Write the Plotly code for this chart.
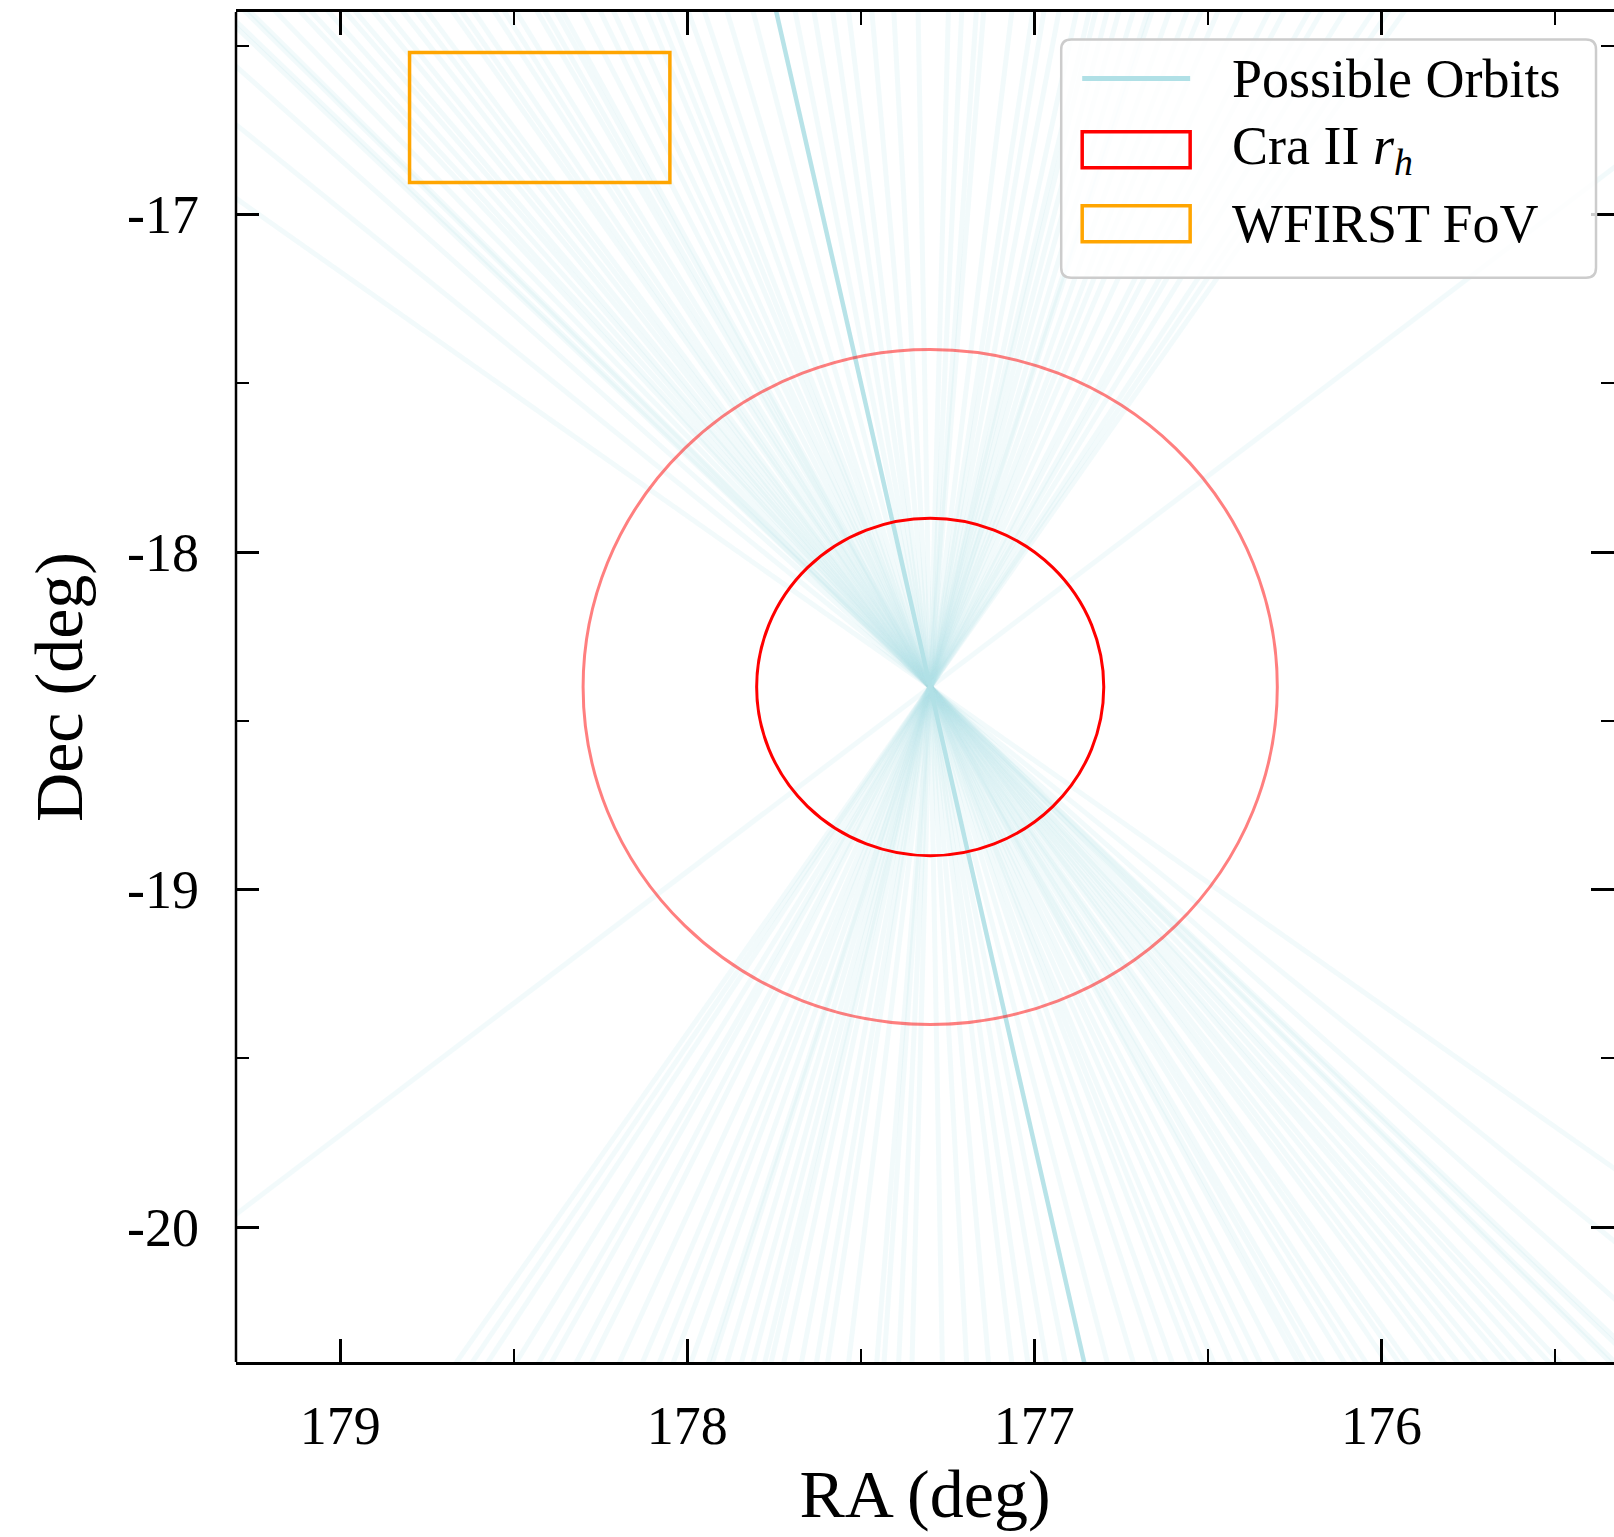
import math
import plotly.graph_objects as go

# ---------------- data ----------------
center_ra = 177.30
center_dec = -18.40
r_half_light = 0.5          # Cra II r_h (deg)
r_outer = 1.0               # 2 r_h circle (deg)

fov_ra = [178.05, 178.80]
fov_dec = [-16.905, -16.52]

# position angles (deg, east of north, in RA/Dec units) of the possible orbits
orbit_pa = [
    45.4, 45.65, 47.4, 50.2, 54.1,
    44.6, 44.4, 43.3, 42.2, 41.7, 40.9, 40.1, 39.6, 38.7, 38.1, 37.2, 36.5, 35.9,
    34.5, 34.0, 33.3, 32.1, 31.5, 30.8, 29.5, 29.0, 28.3, 27.9, 26.6, 25.4,
    24.5, 23.4, 22.2, 21.4, 20.6, 19.2, 18.0, 16.3, 14.3, 11.0, 9.5, 8.0, 6.7,
    4.8, 3.0, 1.0, -1.5, -2.6, -3.8, -4.4, -6.7, -8.4, -9.3, -10.5, -11.9,
    -12.9, -13.4, -14.3, -15.2, -16.3, -17.4, -17.7, -19.0, -20.3, -21.3,
    -22.5, -24.1, -26.0, -27.0, -28.6, -29.4, -30.8, -32.5, -33.4, -34.3, -52.0,
]
best_pa = 12.5

x_tickvals = [179, 178, 177, 176]
x_ticktext = ["179", "178", "177", "176"]
y_tickvals = [-17, -18, -19, -20]
y_ticktext = ["-17", "-18", "-19", "-20"]

x_range = [179.30, 175.33]
y_range = [-20.40, -16.40]

legend_labels = ["Possible Orbits", "Cra II <i>r<sub>h</sub></i>", "WFIRST FoV"]

# ---------------- figure ----------------
W, H = 1614, 1537
L, R, T, B = 235.5, 1614.0, 12.4, 1362.0
FONT = "Liberation Serif"
ORBIT_RGB = "176,224,230"


def px(x):
    return (x - L) / (R - L)


def py(y):
    return (B - y) / (B - T)


fig = go.Figure()


def line_through_center(pa):
    t = 6.0
    s, c = math.sin(math.radians(pa)), math.cos(math.radians(pa))
    return ([center_ra - t * s, center_ra + t * s],
            [center_dec - t * c, center_dec + t * c])


for pa in orbit_pa:
    xs, ys = line_through_center(pa)
    fig.add_trace(go.Scatter(x=xs, y=ys, mode="lines",
                             line=dict(color=f"rgba({ORBIT_RGB},0.17)", width=5),
                             hoverinfo="skip", showlegend=False))

xs, ys = line_through_center(best_pa)
fig.add_trace(go.Scatter(x=xs, y=ys, mode="lines",
                         line=dict(color=f"rgba({ORBIT_RGB},0.9)", width=4.5),
                         hoverinfo="skip", showlegend=False))

shapes = []
# circles
shapes.append(dict(type="circle", xref="x", yref="y",
                   x0=center_ra - r_outer, x1=center_ra + r_outer,
                   y0=center_dec - r_outer, y1=center_dec + r_outer,
                   line=dict(color="rgba(255,0,0,0.5)", width=3), layer="above"))
shapes.append(dict(type="circle", xref="x", yref="y",
                   x0=center_ra - r_half_light, x1=center_ra + r_half_light,
                   y0=center_dec - r_half_light, y1=center_dec + r_half_light,
                   line=dict(color="red", width=3), layer="above"))
# WFIRST FoV
shapes.append(dict(type="rect", xref="x", yref="y",
                   x0=fov_ra[0], x1=fov_ra[1], y0=fov_dec[0], y1=fov_dec[1],
                   line=dict(color="#FFA500", width=3.5), layer="above"))
# left spine
shapes.append(dict(type="line", xref="paper", yref="paper", x0=0, x1=0, y0=0, y1=1,
                   line=dict(color="black", width=2.5), layer="above"))

# manual legend box (rounded)
bx0, bx1, by0, by1, rad = 1061, 1596, 40, 278, 10
rx, ry = rad / (R - L), rad / (B - T)
X0, X1, Y0, Y1 = px(bx0), px(bx1), py(by1), py(by0)
path = (f"M {X0+rx},{Y0} L {X1-rx},{Y0} Q {X1},{Y0} {X1},{Y0+ry} "
        f"L {X1},{Y1-ry} Q {X1},{Y1} {X1-rx},{Y1} L {X0+rx},{Y1} "
        f"Q {X0},{Y1} {X0},{Y1-ry} L {X0},{Y0+ry} Q {X0},{Y0} {X0+rx},{Y0} Z")
shapes.append(dict(type="path", xref="paper", yref="paper", path=path,
                   fillcolor="rgba(255,255,255,0.8)",
                   line=dict(color="#cccccc", width=2.5), layer="above"))
# legend samples
row_y = [79, 150, 224]
sx0, sx1 = 1082, 1190
shapes.append(dict(type="line", xref="paper", yref="paper",
                   x0=px(sx0), x1=px(sx1), y0=py(row_y[0]), y1=py(row_y[0]),
                   line=dict(color=f"rgb({ORBIT_RGB})", width=5), layer="above"))
shapes.append(dict(type="rect", xref="paper", yref="paper",
                   x0=px(sx0), x1=px(sx1), y0=py(row_y[1] + 18), y1=py(row_y[1] - 18),
                   line=dict(color="red", width=3.5), layer="above"))
shapes.append(dict(type="rect", xref="paper", yref="paper",
                   x0=px(sx0), x1=px(sx1), y0=py(row_y[2] + 18), y1=py(row_y[2] - 18),
                   line=dict(color="#FFA500", width=3.5), layer="above"))

annotations = []
for lab, ry_ in zip(legend_labels, row_y):
    annotations.append(dict(xref="paper", yref="paper", x=px(1230), y=py(ry_),
                            xanchor="left", yanchor="middle", showarrow=False,
                            text=lab, font=dict(family=FONT, size=54, color="black")))

fig.update_layout(
    width=W, height=H,
    margin=dict(l=L, r=W - R, t=T, b=H - B, pad=0),
    paper_bgcolor="white", plot_bgcolor="white",
    shapes=shapes, annotations=annotations,
    showlegend=False,
    font=dict(family=FONT, size=54, color="black"),
)

fig.update_xaxes(
    range=x_range, tickvals=x_tickvals, ticktext=x_ticktext,
    ticks="inside", ticklen=23, tickwidth=2.5, tickcolor="black",
    showline=True, linecolor="black", linewidth=2.5, mirror="ticks",
    showgrid=False, zeroline=False,
    minor=dict(dtick=0.5, ticks="inside", ticklen=13, tickwidth=2, tickcolor="black", showgrid=False),
    tickfont=dict(family=FONT, size=54),
    ticklabelstandoff=14,
    title=dict(text="RA (deg)", font=dict(family=FONT, size=68), standoff=14),
)
fig.update_yaxes(
    range=y_range, tickvals=y_tickvals, ticktext=y_ticktext,
    ticks="inside", ticklen=23, tickwidth=2.5, tickcolor="black",
    showline=False, mirror="ticks",
    showgrid=False, zeroline=False,
    minor=dict(dtick=0.5, ticks="inside", ticklen=13, tickwidth=2, tickcolor="black", showgrid=False),
    tickfont=dict(family=FONT, size=54),
    ticklabelstandoff=36,
    title=dict(text="Dec (deg)", font=dict(family=FONT, size=68), standoff=22),
)

fig.write_html("out.html")
